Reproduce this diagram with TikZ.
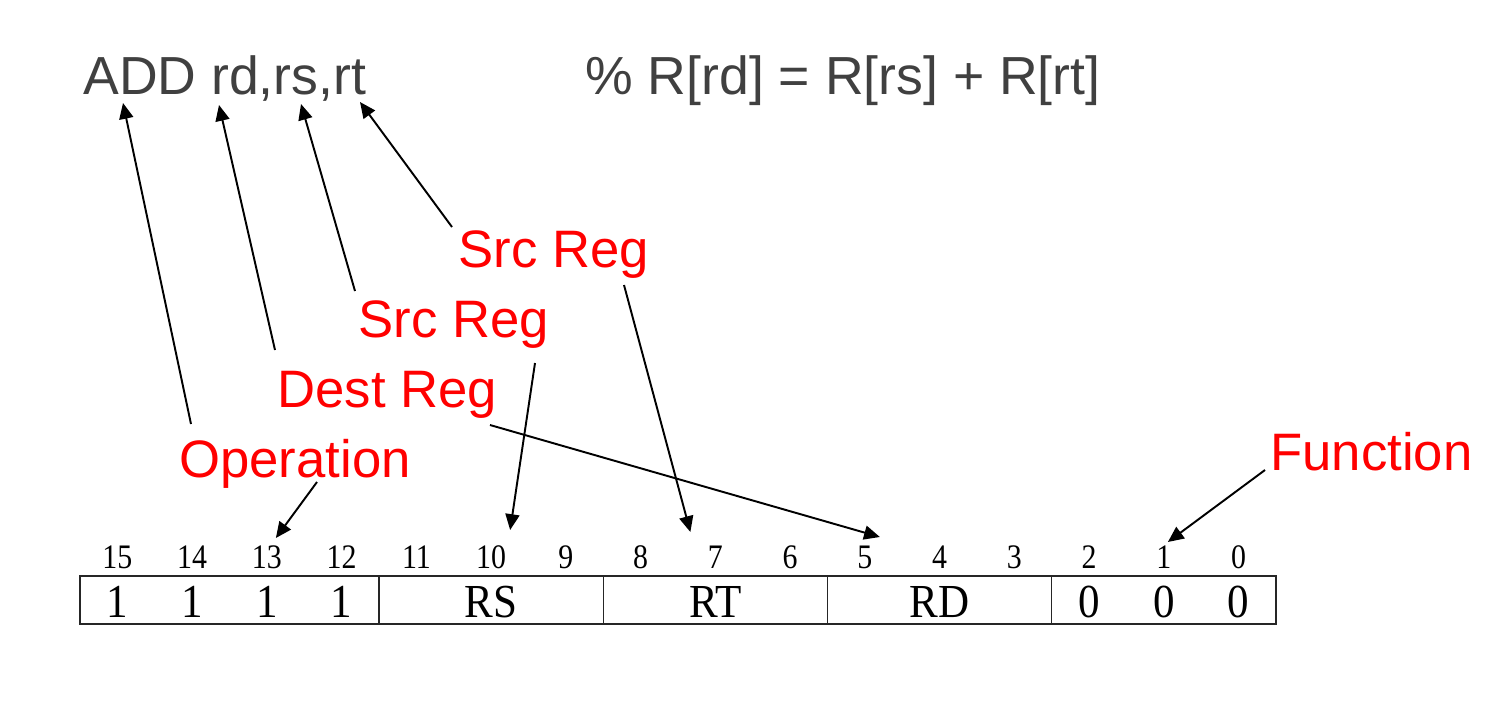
\documentclass[tikz,border=0pt]{standalone}
\usepackage{fontspec}
\setmainfont{Liberation Serif}
\setsansfont{Liberation Sans}
\usepackage{graphicx}
\usepackage{tikz}
\usetikzlibrary{arrows.meta,calc}

\definecolor{slidegray}{HTML}{404040}
\definecolor{notered}{HTML}{FF0000}

\newcommand{\tallnum}[1]{\scalebox{1}[1.15]{#1}}
\newcommand{\tallval}[1]{\scalebox{1}[1.1]{#1}}

\begin{document}
\begin{tikzpicture}[x=0.02cm, y=-0.02cm,
  code/.style={anchor=base west, inner sep=0pt, text=slidegray,
               font=\sffamily\fontsize{30.5}{36}\selectfont},
  note/.style={anchor=base west, inner sep=0pt, text=notered,
               font=\sffamily\fontsize{30}{36}\selectfont},
  bitnum/.style={inner sep=0pt, font=\fontsize{17}{20}\selectfont},
  bitval/.style={inner sep=0pt, font=\fontsize{24.5}{28}\selectfont},
  field/.style={draw=black!85, line width=0.8pt},
  arr/.style={-{Triangle[length=9pt,width=8pt]}, line width=1.1pt}
]
  \useasboundingbox (0,0) rectangle (1493,700);

  % instruction and its meaning
  \node[code] (instr) at (83,94) {ADD rd,rs,rt};
  \node[code] (sem) at (585,94) {\% R[rd] = R[rs] + R[rt]};

  % points under the operands
  \coordinate (tOp) at ($(instr.base west)+(40,9)$);
  \coordinate (tRd) at ($(instr.base west)+(136,11)$);
  \coordinate (tRs) at ($(instr.base west)+(218,10)$);
  \coordinate (tRt) at ($(instr.base west)+(277,8)$);

  % bit numbers
  \foreach \b in {0,...,15}
    \node[bitnum] (b\b) at ({80+(15.5-\b)*74.75},557) {\tallnum{\b}};

  % fields
  \foreach \l/\r in {80/379, 379/603.25, 603.25/827.5, 827.5/1051.75, 1051.75/1276}
    \draw[field] (\l,576) rectangle (\r,624);
  \foreach \b in {15,14,13,12}
    \node[bitval] (v\b) at (b\b |- 0,602) {\tallval{1}};
  \foreach \b in {2,1,0}
    \node[bitval] (v\b) at (b\b |- 0,602) {\tallval{0}};
  \node[bitval] (rs) at (b10 |- 0,602) {\tallval{RS}};
  \node[bitval] (rt) at (b7 |- 0,602) {\tallval{RT}};
  \node[bitval] (rd) at (b4 |- 0,602) {\tallval{RD}};

  % red labels
  \node[note] (srcT) at (458,267) {Src Reg};
  \node[note] (srcS) at (358,337) {Src Reg};
  \node[note] (dest) at (277,407) {Dest Reg};
  \node[note] (op) at (179,477) {Operation};
  \node[note] (func) at (1270,470) {Function};

  % up to the instruction
  \draw[arr] ($(op.base west)+(12,-53)$) -- (tOp);
  \draw[arr] ($(dest.base west)+(-2,-57)$) -- (tRd);
  \draw[arr] ($(srcS.base west)+(-3,-46)$) -- (tRs);
  \draw[arr] ($(srcT.base west)+(-6,-40)$) -- (tRt);

  % down to the bits
  \draw[arr] ($(op.base west)+(138,5)$) -- ($(b13)+(9,-19)$);
  \draw[arr] ($(srcS.base west)+(177,26)$) -- ($(b10)+(19,-27)$);
  \draw[arr] ($(srcT.base west)+(166,18)$) -- ($(b7)+(-25,-25)$);
  \draw[arr] ($(dest.base west)+(213,18)$) -- ($(b5)+(15,-20)$);
  \draw[arr] ($(func.base west)+(-5,0)$) -- ($(b1)+(4,-15)$);
\end{tikzpicture}
\end{document}
